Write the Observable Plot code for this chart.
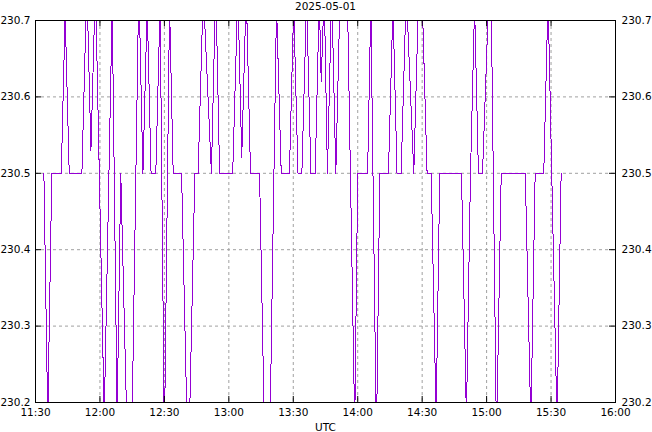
<!DOCTYPE html>
<html><head><meta charset="utf-8">
<script src="https://cdn.jsdelivr.net/npm/d3@7"></script>
<script src="https://cdn.jsdelivr.net/npm/@observablehq/plot@0.6"></script>
<style>
html,body{margin:0;padding:0;background:#fff;}
</style></head><body><div id="chart"></div>
<script>
const chartTitle = "2025-05-01";
const xLabel = "UTC";
const startTime = "2025-05-01T11:30:00Z";
const endTime = "2025-05-01T16:00:00Z";
const xTickLabels = ["11:30","12:00","12:30","13:00","13:30","14:00","14:30","15:00","15:30","16:00"];
const yTicks = [230.2, 230.3, 230.4, 230.5, 230.6, 230.7];
const minutesAfterStart = [
  3.9, 5.7, 7.6, 12.0, 13.8, 15.7, 21.6, 23.9, 25.8, 27.9,
  32.0, 35.7, 38.0, 39.7, 44.0, 48.1, 50.0, 52.0, 53.8, 56.0,
  58.0, 60.0, 62.4, 64.1, 68.0, 71.1, 74.2, 75.7, 78.1, 81.9,
  83.9, 85.7, 91.8, 94.2, 96.0, 98.1, 100.1, 104.3, 108.0, 112.2,
  114.4, 118.2, 120.2, 122.2, 124.0, 126.2, 128.2, 130.2, 132.1, 133.0,
  134.4, 135.9, 137.9, 139.8, 142.0, 144.3, 148.6, 150.0, 154.6, 156.1,
  158.7, 160.3, 164.3, 166.4, 168.3, 170.2, 172.6, 176.1, 178.4, 179.7,
  182.3, 184.2, 186.5, 188.2, 198.3, 200.6, 202.5, 204.4, 206.2, 208.1,
  211.1, 212.0, 214.6, 216.8, 228.0, 230.6, 232.6, 236.6, 238.6, 242.8,
  244.7
];
const voltage = [
  230.5, 230.18, 230.5, 230.5, 230.71, 230.5, 230.5, 230.75, 230.53, 230.75,
  230.18, 230.72, 230.18, 230.5, 230.0, 230.75, 230.5, 230.72, 230.5, 230.5,
  230.72, 230.15, 230.72, 230.5, 230.5, 230.1, 230.5, 230.5, 230.74, 230.5,
  230.75, 230.5, 230.5, 230.74, 230.52, 230.74, 230.5, 230.5, 229.95, 230.72,
  230.5, 230.5, 230.72, 230.5, 230.5, 230.73, 230.5, 230.5, 230.73, 230.62,
  230.74, 230.5, 230.74, 230.5, 230.76, 230.88, 230.17, 230.5, 230.5, 230.72,
  230.15, 230.5, 230.5, 230.72, 230.5, 230.5, 230.74, 230.5, 230.74, 230.76,
  230.5, 230.5, 230.18, 230.5, 230.5, 230.18, 230.5, 230.72, 230.5, 230.5,
  230.74, 230.76, 230.15, 230.5, 230.5, 230.17, 230.5, 230.5, 230.73, 230.17,
  230.5
];

const x0 = new Date(startTime), x1 = new Date(endTime);
const base = +x0;
const data = minutesAfterStart.map((m, i) => ({time: new Date(base + m * 60000), v: voltage[i]}));
const xTicks = xTickLabels.map(s => new Date(`2025-05-01T${s}:00Z`));
const yMin = yTicks[0], yMax = yTicks[yTicks.length - 1];
const xTickLen = 2.8 * 60000;   // ~6px inward tick
const yTickLen = 0.0079;         // ~6px inward tick

const chart = Plot.plot({
  width: 652, height: 432,
  marginLeft: 35, marginRight: 37, marginTop: 20, marginBottom: 30,
  style: {fontFamily: "DejaVu Sans", fontSize: "10.5px", background: "#fff", color: "#000"},
  x: {type: "utc", domain: [x0, x1]},
  y: {domain: [yMin, yMax]},
  marks: [
    Plot.gridX(xTicks, {stroke: "#a0a0a0", strokeOpacity: 1, strokeDasharray: "3,3"}),
    Plot.gridY(yTicks, {stroke: "#a0a0a0", strokeOpacity: 1, strokeDasharray: "3,3"}),
    Plot.line(data, {x: "time", y: "v", stroke: "#9400d3", strokeWidth: 1, clip: true, shapeRendering: "crispEdges"}),
    Plot.ruleY(yTicks, {x1: () => x0, x2: () => new Date(base + xTickLen), stroke: "black"}),
    Plot.ruleY(yTicks, {x1: () => new Date(+x1 - xTickLen), x2: () => x1, stroke: "black"}),
    Plot.ruleX(xTicks, {y1: yMin, y2: yMin + yTickLen, stroke: "black"}),
    Plot.ruleX(xTicks, {y1: yMax - yTickLen, y2: yMax, stroke: "black"}),
    Plot.frame({stroke: "black"}),
    Plot.axisX(xTicks, {tickSize: 0, tickPadding: 6, tickFormat: d3.utcFormat("%H:%M"), label: null}),
    Plot.axisY(yTicks, {anchor: "left", tickSize: 0, tickPadding: 5, tickFormat: ".1f", label: null}),
    Plot.axisY(yTicks, {anchor: "right", tickSize: 0, tickPadding: 6, tickFormat: ".1f", label: null}),
    Plot.text([chartTitle], {frameAnchor: "top", dy: -18}),
    Plot.text([xLabel], {frameAnchor: "bottom", dy: 28})
  ]
});
document.getElementById("chart").appendChild(chart);
</script>
</body></html>
